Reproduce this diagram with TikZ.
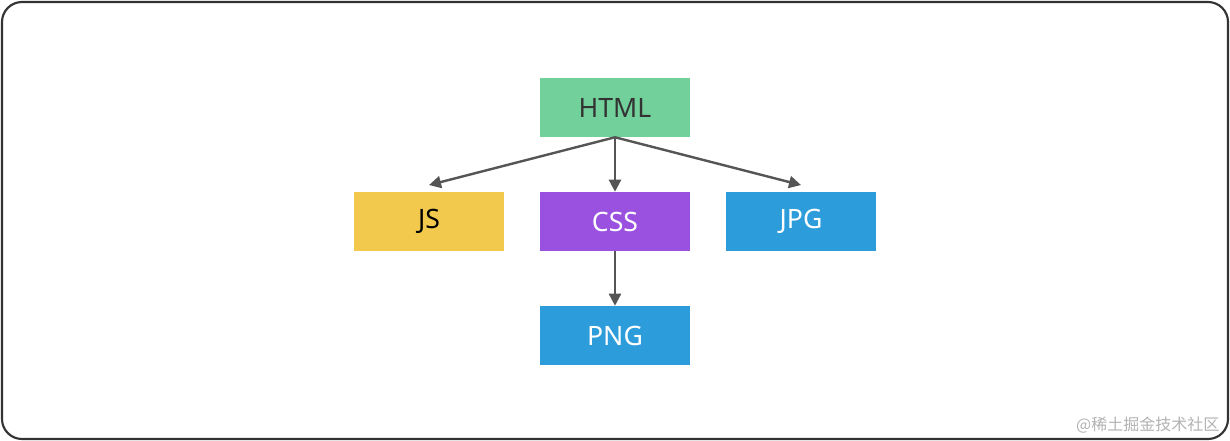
\documentclass[tikz,border=0pt]{standalone}
\usepackage{fontspec}
\setmainfont{Noto Sans}
\newfontfamily\cjk{Noto Sans CJK SC}
\usetikzlibrary{arrows.meta,positioning}
\definecolor{htmlgreen}{HTML}{72D09A}
\definecolor{jsyellow}{HTML}{F2C94C}
\definecolor{csspurple}{HTML}{9B51E0}
\definecolor{imgblue}{HTML}{2D9CDB}
\definecolor{linegray}{HTML}{555555}
\tikzset{
  filebox/.style={minimum width=112.5pt,minimum height=44.25pt,inner sep=0pt,
    font=\fontsize{20}{24}\selectfont\bfseries,text=white},
  link/.style={draw=linegray,line width=1.8pt,-{Triangle[length=9pt,width=9pt]}}
}
\begin{document}
\begin{tikzpicture}[x=0.75pt,y=-0.75pt]
	\useasboundingbox (0,0) rectangle (1230,441);
	\draw[line width=1.6pt,draw=black!80,rounded corners=15pt] (2,2) rectangle (1228,439);
	\node[filebox,fill=htmlgreen,text=black!80] (HTML) at (615,107.5) {HTML};
	\node[filebox,fill=jsyellow,text=black] (JS) at (429,221.5) {JS};
	\node[filebox,fill=csspurple] (CSS) at (615,221.5) {CSS};
	\node[filebox,fill=imgblue] (JPG) at (801,221.5) {JPG};
	\node[filebox,fill=imgblue] (PNG) at (615,335.5) {PNG};
	\draw[link] (HTML.south) -- ([yshift=5pt]JS.north);
	\draw[link] (HTML.south) -- (CSS.north);
	\draw[link] (HTML.south) -- ([yshift=5pt]JPG.north);
	\draw[link] (CSS.south) -- (PNG.north);
	\node[anchor=east,text=black!30,font=\cjk\fontsize{12}{14}\selectfont] (mark) at (1224,425) {@稀土掘金技术社区};
\end{tikzpicture}
\end{document}
